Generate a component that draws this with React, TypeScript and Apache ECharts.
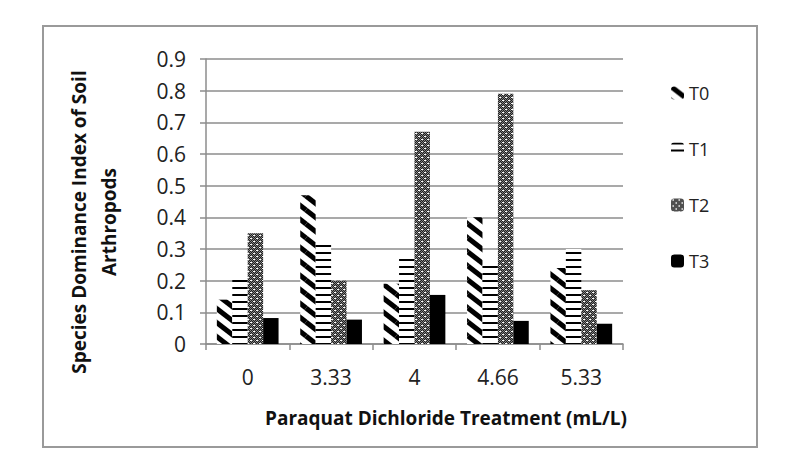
import React, { useEffect, useRef } from "react";
import * as echarts from "echarts";

const categories = ["0", "3.33", "4", "4.66", "5.33"];
const seriesNames = ["T0", "T1", "T2", "T3"];
const t0Values = [0.14, 0.47, 0.19, 0.4, 0.24];
const t1Values = [0.21, 0.32, 0.27, 0.25, 0.3];
const t2Values = [0.35, 0.2, 0.67, 0.79, 0.17];
const t3Values = [0.082, 0.077, 0.155, 0.073, 0.064];
const yTicks = [0, 0.1, 0.2, 0.3, 0.4, 0.5, 0.6, 0.7, 0.8, 0.9];

const FONT = "'Open Sans', 'Noto Sans', sans-serif";

function makeTile(w: number, h: number, draw: (ctx: CanvasRenderingContext2D) => void) {
  const c = document.createElement("canvas");
  c.width = w;
  c.height = h;
  const ctx = c.getContext("2d")!;
  ctx.fillStyle = "#ffffff";
  ctx.fillRect(0, 0, w, h);
  draw(ctx);
  return c;
}

// wide downward diagonal stripes
function diagonalTile() {
  const w = 18, h = 14;
  return makeTile(w, h, (ctx) => {
    ctx.strokeStyle = "#000";
    ctx.lineWidth = 5;
    for (const dx of [-w, 0, w]) {
      for (const dy of [-h, 0, h]) {
        ctx.beginPath();
        ctx.moveTo(dx, dy);
        ctx.lineTo(dx + w, dy + h);
        ctx.stroke();
      }
    }
  });
}

// narrow horizontal lines
function horizontalTile() {
  return makeTile(8, 7, (ctx) => {
    ctx.fillStyle = "#000";
    ctx.fillRect(0, 0, 8, 2);
  });
}

// dense dotted grid
function dottedTile() {
  const s = 6;
  return makeTile(s, s, (ctx) => {
    ctx.fillStyle = "#1e1e1e";
    ctx.fillRect(0, 0, s, s);
    for (let y = 0; y < s; y++) {
      for (let x = 0; x < s; x++) {
        if ((x + y) % 2 === 0) {
          ctx.fillStyle = "rgba(255,255,255,0.45)";
          ctx.fillRect(x, y, 1, 1);
        }
      }
    }
    ctx.fillStyle = "#ffffff";
    ctx.fillRect(1, 1, 2, 1);
    ctx.fillRect(4, 4, 2, 1);
  });
}

export default function App() {
  const ref = useRef<HTMLDivElement>(null);

  useEffect(() => {
    document.body.style.margin = "0";
    if (!ref.current) return;
    const chart = echarts.init(ref.current, null, { renderer: "svg" });

    const fills: any[] = [
      { image: diagonalTile(), repeat: "repeat" },
      { image: horizontalTile(), repeat: "repeat" },
      { image: dottedTile(), repeat: "repeat" },
      "#000000",
    ];
    const values = [t0Values, t1Values, t2Values, t3Values];

    const titleStyle = {
      fontSize: 19,
      fontWeight: "bold",
      fontFamily: FONT,
      fill: "#111",
      align: "center",
      verticalAlign: "middle",
    };

    chart.setOption({
      animation: false,
      backgroundColor: "#ffffff",
      textStyle: { fontFamily: FONT },
      grid: { left: 206, right: 165, top: 59, bottom: 124 },
      legend: {
        orient: "vertical",
        left: 671,
        top: 83,
        itemWidth: 13,
        itemHeight: 13,
        itemGap: 36,
        padding: 0,
        textStyle: { fontSize: 18, color: "#222", fontFamily: FONT, lineHeight: 20 },
        data: seriesNames,
      },
      xAxis: {
        type: "category",
        data: categories,
        axisLine: { lineStyle: { color: "#8c8c8c", width: 1.5 } },
        axisTick: { show: true, length: 6, lineStyle: { color: "#8c8c8c", width: 1.5 } },
        axisLabel: { fontSize: 21, color: "#222", margin: 22, fontFamily: FONT },
      },
      yAxis: {
        type: "value",
        min: yTicks[0],
        max: yTicks[yTicks.length - 1],
        interval: 0.1,
        axisLine: { show: true, lineStyle: { color: "#8c8c8c", width: 1.5 } },
        axisTick: { show: true, length: 6, lineStyle: { color: "#8c8c8c", width: 1.5 } },
        splitLine: { lineStyle: { color: "#8c8c8c", width: 1.5 } },
        axisLabel: {
          fontSize: 21,
          color: "#222",
          margin: 20,
          fontFamily: FONT,
          formatter: (v: number) => (v === 0 ? "0" : v.toFixed(1)),
        },
      },
      series: seriesNames.map((name, i) => ({
        name,
        type: "bar",
        data: values[i],
        barGap: "0%",
        barCategoryGap: "26%",
        itemStyle: { color: fills[i] },
      })),
      graphic: [
        {
          type: "rect",
          shape: { x: 43, y: 26, width: 714, height: 421 },
          style: { fill: "none", stroke: "#9a9a9a", lineWidth: 2 },
          silent: true,
        },
        {
          type: "text",
          x: 446,
          y: 418,
          style: { ...titleStyle, text: "Paraquat Dichloride Treatment (mL/L)" },
        },
        {
          type: "text",
          x: 79,
          y: 222,
          rotation: Math.PI / 2,
          style: { ...titleStyle, text: "Species Dominance Index of Soil" },
        },
        {
          type: "text",
          x: 109,
          y: 222,
          rotation: Math.PI / 2,
          style: { ...titleStyle, text: "Arthropods" },
        },
      ],
    });

    return () => chart.dispose();
  }, []);

  return <div ref={ref} style={{ width: 788, height: 468 }} />;
}
